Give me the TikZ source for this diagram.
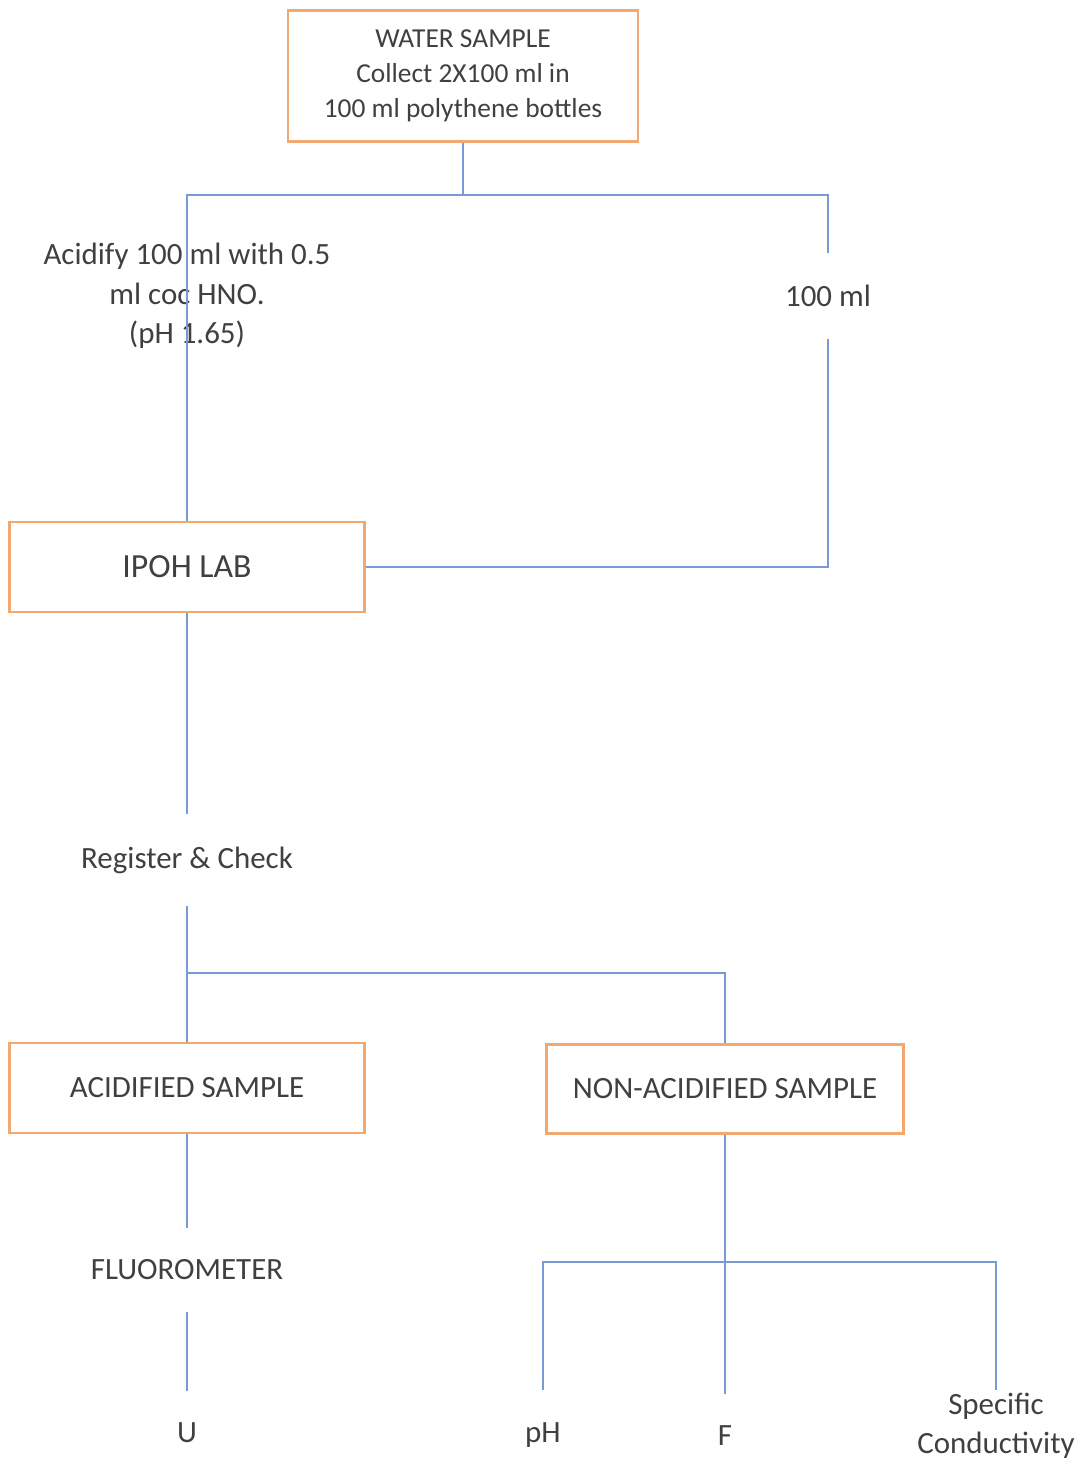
\documentclass[tikz,border=0pt]{standalone}
\usepackage{fontspec}
\setmainfont{Carlito}
\usepackage{tikz}
\definecolor{boxorange}{HTML}{F2A86E}
\definecolor{lineblue}{HTML}{7A9AD6}
\definecolor{textgray}{HTML}{404040}
\tikzset{
    box/.style={draw=boxorange, line width=1.8pt, minimum width=8.875cm, minimum height=2.25cm, text=textgray, font=\fontsize{22}{28}\selectfont, align=center},
    topbox/.style={box, minimum width=8.75cm, minimum height=3.275cm, font=\fontsize{19.5}{25}\selectfont},
    steptext/.style={text=textgray, font=\fontsize{22}{28}\selectfont, align=center, inner xsep=2pt, inner ysep=0.8cm},
    link/.style={draw=lineblue, line width=0.9pt}
}

\begin{document}
\begin{tikzpicture}[x=0.025cm, y=-0.025cm]
        \useasboundingbox (0, 0) rectangle (1091, 1464);
        \node[topbox] (water) at (463, 76) {WATER SAMPLE\\Collect 2X100 ml in\\100 ml polythene bottles};
        \node[steptext] (acidify) at (187, 296) {Acidify 100 ml with 0.5\\ml coc HNO.\\(pH 1.65)};
        \node[steptext] (hundred) at (828, 296) {100 ml};
        \node[box, font=\fontsize{24}{28}\selectfont] (ipoh) at (187, 567) {IPOH LAB};
        \node[steptext] (register) at (187, 860) {Register \& Check};
        \node[box] (acid) at (187, 1088) {ACIDIFIED SAMPLE};
        \node[box, minimum width=8.925cm, minimum height=2.225cm] (nonacid) at (725, 1089) {NON-ACIDIFIED SAMPLE};
        \node[steptext] (fluoro) at (187, 1270) {FLUOROMETER};
        \node[steptext] (u) at (187, 1433) {U};
        \node[steptext] (ph) at (543, 1435) {pH};
        \node[steptext] (f) at (725, 1436) {F};
        \node[steptext, inner ysep=2pt] (cond) at (996, 1426) {Specific\\Conductivity};
        \coordinate (split) at (463, 195);
        \coordinate (fork) at (187, 973);
        \coordinate (branch) at (725, 1262);
        \draw[link] (water.south) -- (split);
        \draw[link] (split) -| (ipoh.north);
        \draw[link] (split) -| (hundred.north);
        \draw[link] (hundred.south) |- (ipoh.east);
        \draw[link] (ipoh.south) -- (register.north);
        \draw[link] (register.south) -- (acid.north);
        \draw[link] (fork) -| (nonacid.north);
        \draw[link] (acid.south) -- (fluoro.north);
        \draw[link] (fluoro.south) -- (u.north);
        \draw[link] (nonacid.south) -- (f.north);
        \draw[link] (branch) -| (ph.north);
        \draw[link] (branch) -| (cond.north);
    \end{tikzpicture}
\end{document}
